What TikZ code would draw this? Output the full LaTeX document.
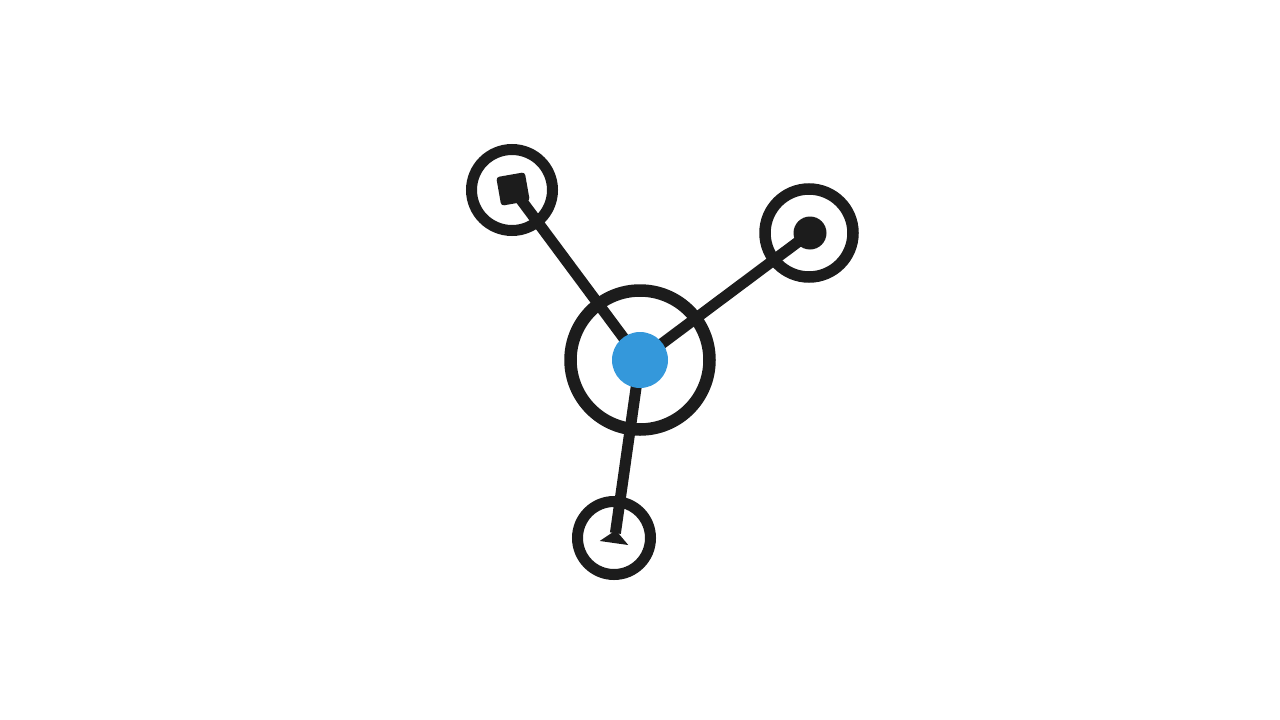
\documentclass[tikz,border=0pt]{standalone}
\usetikzlibrary{arrows.meta}
\definecolor{ink}{HTML}{1C1C1C}
\definecolor{hubblue}{HTML}{3498DB}
\begin{document}
\begin{tikzpicture}[x=1pt,y=-1pt,
  ring/.style={circle,draw=ink,inner sep=0pt,fill=none},
  spoke/.style={draw=ink,line width=11pt},
  dotnode/.style={circle,fill=ink,inner sep=0pt,minimum size=33pt},
  sqnode/.style={rectangle,rounded corners=3pt,fill=ink,inner sep=0pt,minimum size=29pt,rotate=10},
  hubdot/.style={circle,fill=hubblue,inner sep=0pt,minimum size=56pt}]
\useasboundingbox[fill=white] (0,0) rectangle (1280,720);
% rings
\node[ring,line width=12.5pt,minimum size=139pt] (hubring) at (640,360) {};
\node[ring,line width=11pt,minimum size=81pt] (tlring) at (512,190) {};
\node[ring,line width=11.5pt,minimum size=88pt] (rring) at (809,233) {};
\node[ring,line width=11pt,minimum size=73pt] (bring) at (614,538) {};
% centre coordinates
\coordinate (hubc) at (640,360);
\coordinate (sqc) at (513,189);
\coordinate (dotc) at (810,233);
\coordinate (tipc) at (614,543);
% spokes
\draw[spoke] (hubc) -- (sqc);
\draw[spoke] (hubc) -- (dotc);
\draw[spoke,-{Triangle[reversed,width=28pt,length=13pt]}] (hubc) -- (tipc);
% inner shapes
\node[sqnode] (sq) at (sqc) {};
\node[dotnode] (dot) at (dotc) {};
\node[hubdot] (hub) at (hubc) {};
\end{tikzpicture}
\end{document}
